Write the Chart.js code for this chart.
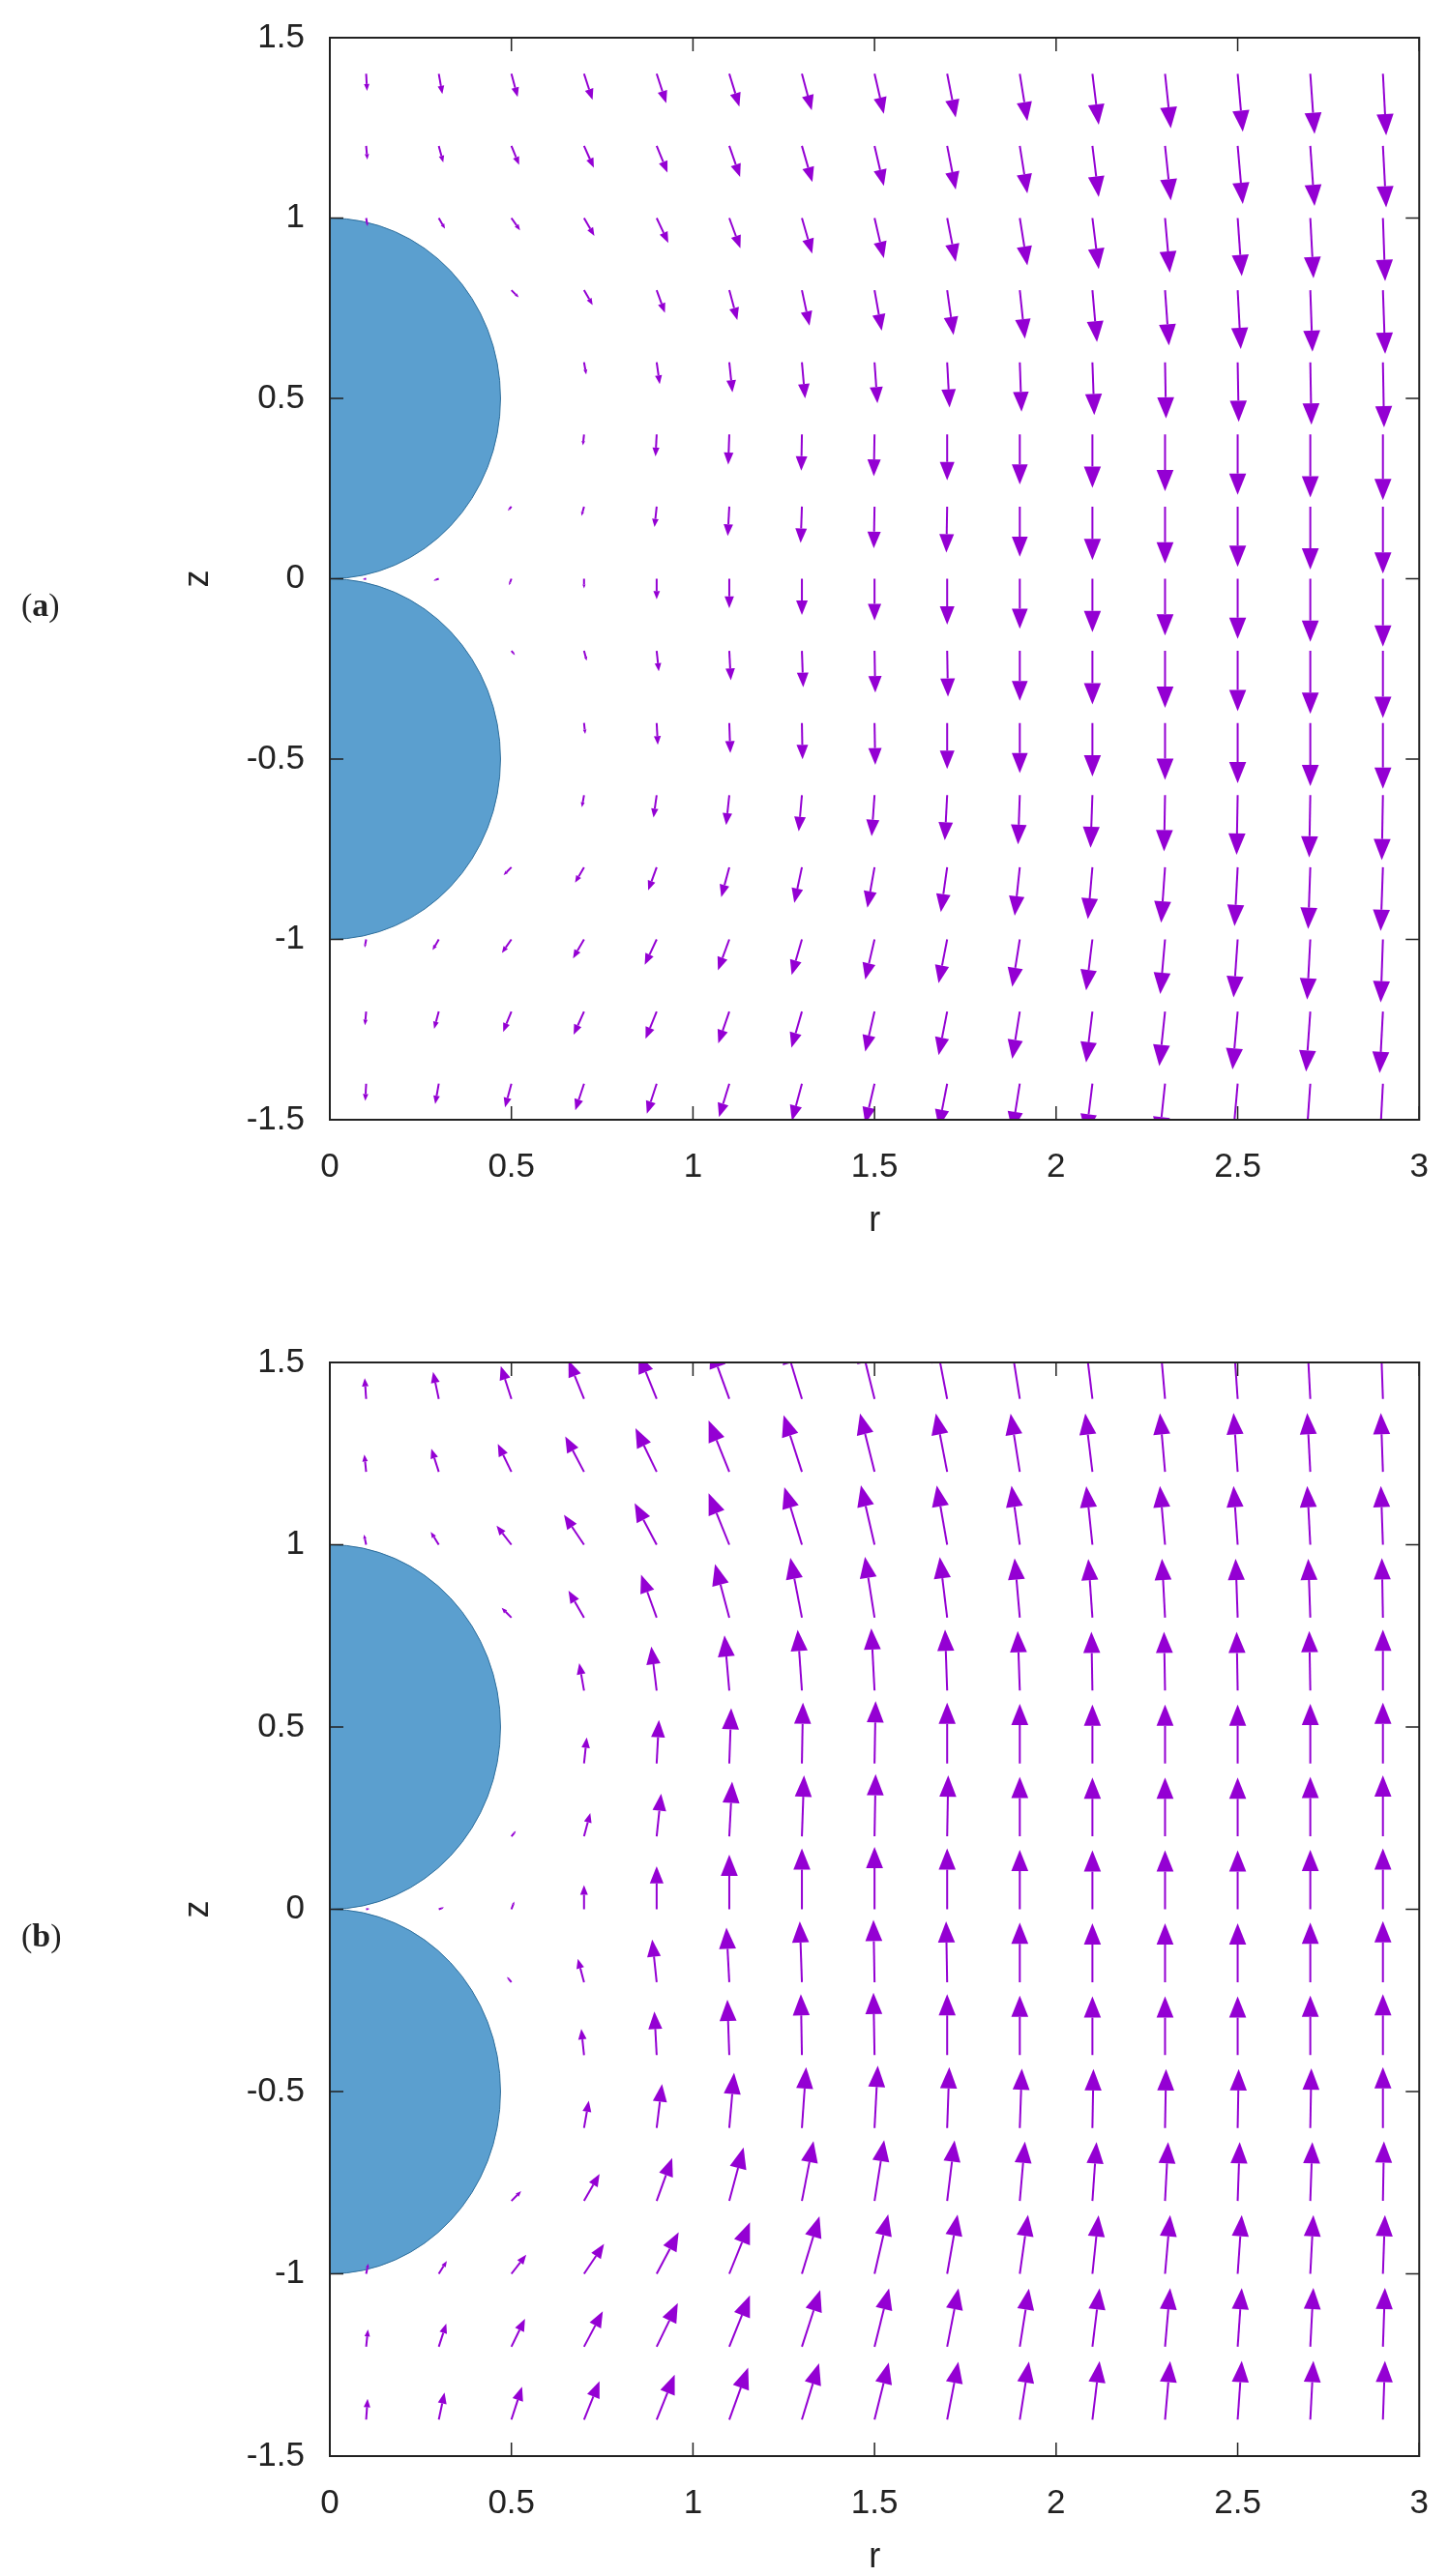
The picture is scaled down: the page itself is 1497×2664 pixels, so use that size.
<!DOCTYPE html>
<html>
<head>
<meta charset="utf-8">
<script src="https://cdn.jsdelivr.net/npm/chart.js@4/dist/chart.umd.min.js"></script>
<style>
  body { margin: 0; background: #fff; }
  canvas { display: block; }
</style>
</head>
<body>
<canvas id="chartA" width="1497" height="1332"></canvas>
<canvas id="chartB" width="1497" height="1332"></canvas>
<script>
// sample positions of the arrows
const rValues = [0.1, 0.3, 0.5, 0.7, 0.9, 1.1, 1.3, 1.5, 1.7, 1.9, 2.1, 2.3, 2.5, 2.7, 2.9];
const zValues = [1.4, 1.2, 1.0, 0.8, 0.6, 0.4, 0.2, 0.0, -0.2, -0.4, -0.6, -0.8, -1.0, -1.2, -1.4];
const xTicks = [0, 0.5, 1, 1.5, 2, 2.5, 3];
const yTicks = [-1.5, -1, -0.5, 0, 0.5, 1, 1.5];
// spheres: centre z, radius
const sphereCentres = [0.5, -0.5];

// panel (a): downward flow. magnitude 0..100, tilt in degrees (+ = towards larger r)
const magA = [
  [25,30,35,40,45,50,55,60,65,70,75,80,85,88,90],
  [20,25,30,35,42,48,55,60,65,70,75,80,85,88,90],
  [12,18,22,30,40,47,54,60,65,70,75,80,85,88,92],
  [0,0,15,25,35,45,53,60,66,71,76,81,86,90,93],
  [0,0,0,18,32,44,53,60,66,72,77,82,87,91,95],
  [0,0,0,16,32,44,53,61,67,73,78,83,88,92,96],
  [0,0,8,14,30,43,53,61,67,73,78,83,88,92,98],
  [5,8,10,14,30,43,53,61,67,73,78,83,88,92,99],
  [0,0,8,15,30,43,53,61,67,73,78,83,88,92,98],
  [0,0,0,16,32,44,53,61,67,73,78,83,88,92,96],
  [0,0,0,18,33,44,53,60,66,72,77,82,87,91,95],
  [0,0,16,26,36,45,53,60,66,71,76,81,86,90,93],
  [12,18,24,32,41,48,54,60,65,70,75,80,85,88,92],
  [20,26,32,37,43,49,55,60,65,70,75,80,85,88,90],
  [25,30,36,41,46,51,56,60,65,70,75,80,85,88,90]
];
const tiltA = [
  [3,10,15,18,18,17,15,13,11,9,7,6,5,4,3],
  [5,15,22,24,22,19,16,13,11,9,7,6,5,4,3],
  [10,30,35,30,25,20,16,13,11,9,7,5,4,3,2],
  [0,0,45,30,20,15,12,10,8,6,5,4,3,2,2],
  [0,0,0,10,8,6,5,4,3,2,2,1,1,1,1],
  [0,0,0,-6,-3,-2,-1,-1,0,0,0,0,0,0,0],
  [0,0,-40,-15,-6,-3,-2,-1,-1,0,0,0,0,0,0],
  [-80,-70,-20,0,0,0,0,0,0,0,0,0,0,0,0],
  [0,0,40,15,6,3,2,1,1,0,0,0,0,0,0],
  [0,0,0,6,3,2,1,1,0,0,0,0,0,0,0],
  [0,0,0,-10,-8,-6,-5,-4,-3,-2,-2,-1,-1,-1,-1],
  [0,0,-45,-30,-20,-15,-12,-10,-8,-6,-5,-4,-3,-2,-2],
  [-10,-30,-35,-30,-25,-20,-16,-13,-11,-9,-7,-5,-4,-3,-2],
  [-5,-15,-22,-24,-22,-19,-16,-13,-11,-9,-7,-6,-5,-4,-3],
  [-3,-10,-15,-18,-18,-17,-15,-13,-11,-9,-7,-6,-5,-4,-3]
];

// panel (b): upward flow
const magB = [
  [30,40,50,60,70,80,85,85,85,85,85,85,85,85,85],
  [25,35,45,58,70,80,86,87,86,85,85,85,85,85,85],
  [15,22,35,52,68,80,87,88,87,86,85,85,85,85,85],
  [0,0,20,45,66,80,88,89,88,86,85,85,85,85,86],
  [0,0,0,40,64,80,88,90,88,86,85,85,85,86,88],
  [0,0,0,38,63,80,88,90,88,86,85,85,85,86,88],
  [0,0,10,35,62,79,88,90,88,86,85,85,85,86,88],
  [5,8,12,35,62,79,88,90,88,86,85,85,85,86,88],
  [0,0,10,35,62,79,88,90,88,86,85,85,85,86,88],
  [0,0,0,38,63,80,88,90,88,86,85,85,85,86,88],
  [0,0,0,40,64,80,88,90,88,86,85,85,85,86,88],
  [0,0,20,45,66,80,88,89,88,86,85,85,85,85,86],
  [15,22,35,52,68,80,87,88,87,86,85,85,85,85,85],
  [25,35,45,58,70,80,86,87,86,85,85,85,85,85,85],
  [30,40,50,60,70,80,85,85,85,85,85,85,85,85,85]
];
const tiltB = [
  [-4,-12,-18,-22,-22,-20,-17,-14,-11,-9,-7,-5,-4,-3,-2],
  [-6,-18,-26,-28,-26,-22,-18,-14,-11,-9,-7,-5,-4,-3,-2],
  [-12,-32,-38,-34,-28,-22,-17,-13,-10,-8,-6,-5,-4,-3,-2],
  [0,0,-45,-30,-20,-15,-11,-9,-7,-5,-4,-3,-2,-2,-1],
  [0,0,0,-10,-7,-5,-4,-3,-2,-2,-1,-1,-1,-1,0],
  [0,0,0,6,3,2,1,1,0,0,0,0,0,0,0],
  [0,0,40,15,6,3,2,1,1,0,0,0,0,0,0],
  [80,70,20,0,0,0,0,0,0,0,0,0,0,0,0],
  [0,0,-40,-15,-6,-3,-2,-1,-1,0,0,0,0,0,0],
  [0,0,0,-6,-3,-2,-1,-1,0,0,0,0,0,0,0],
  [0,0,0,10,7,5,4,3,2,2,1,1,1,1,0],
  [0,0,45,30,20,15,11,9,7,5,4,3,2,2,1],
  [12,32,38,34,28,22,17,13,10,8,6,5,4,3,2],
  [6,18,26,28,26,22,18,14,11,9,7,5,4,3,2],
  [4,12,18,22,22,20,17,14,11,9,7,5,4,3,2]
];

const ARROW_COLOR = '#9400d3';
const MAX_LEN = 0.19; // data units for magnitude 100

function buildPoints(mag, tilt) {
  const pts = [];
  zValues.forEach((z, i) => {
    rValues.forEach((r, j) => {
      if (mag[i][j] > 0) pts.push({ x: r, y: z, m: mag[i][j], t: tilt[i][j] });
    });
  });
  return pts;
}

const framePlugin = {
  id: 'frame',
  beforeDatasetsDraw(chart) {
    const { ctx, chartArea: a, scales: { x, y } } = chart;
    ctx.save();
    ctx.beginPath();
    ctx.rect(a.left, a.top, a.width, a.height);
    ctx.clip();
    ctx.fillStyle = '#5b9fcf';
    ctx.strokeStyle = '#2f6f9c';
    ctx.lineWidth = 1;
    sphereCentres.forEach(zc => {
      const cx = x.getPixelForValue(0), cy = y.getPixelForValue(zc);
      const rx = x.getPixelForValue(0.47) - cx, ry = cy - y.getPixelForValue(zc + 0.5);
      ctx.beginPath();
      ctx.ellipse(cx, cy, rx, ry, 0, -Math.PI / 2, Math.PI / 2);
      ctx.closePath();
      ctx.fill();
      ctx.stroke();
    });
    ctx.restore();
  },
  afterDatasetsDraw(chart, args, opts) {
    const { ctx, chartArea: a, scales: { x, y } } = chart;
    const sign = opts.up ? 1 : -1;
    ctx.save();
    ctx.beginPath();
    ctx.rect(a.left, a.top, a.width, a.height);
    ctx.clip();
    ctx.strokeStyle = ARROW_COLOR;
    ctx.fillStyle = ARROW_COLOR;
    ctx.lineWidth = 2;
    chart.data.datasets[0].data.forEach(p => {
      const len = MAX_LEN * p.m / 100;
      const ang = p.t * Math.PI / 180;
      const x0 = x.getPixelForValue(p.x), y0 = y.getPixelForValue(p.y);
      const x1 = x.getPixelForValue(p.x + len * Math.sin(ang));
      const y1 = y.getPixelForValue(p.y + sign * len * Math.cos(ang));
      const dx = x1 - x0, dy = y1 - y0, d = Math.hypot(dx, dy);
      if (d < 1) return;
      const ux = dx / d, uy = dy / d;
      const h = Math.min(22, d * 0.4), w = h * 0.4;
      ctx.beginPath();
      ctx.moveTo(x0, y0);
      ctx.lineTo(x1 - ux * h, y1 - uy * h);
      ctx.stroke();
      ctx.beginPath();
      ctx.moveTo(x1, y1);
      ctx.lineTo(x1 - ux * h - uy * w, y1 - uy * h + ux * w);
      ctx.lineTo(x1 - ux * h + uy * w, y1 - uy * h - ux * w);
      ctx.closePath();
      ctx.fill();
    });
    ctx.restore();

    // border and inward ticks
    ctx.save();
    ctx.strokeStyle = '#222';
    ctx.lineWidth = 2;
    ctx.strokeRect(a.left, a.top, a.width, a.height);
    ctx.lineWidth = 1.5;
    xTicks.forEach(v => {
      const px = x.getPixelForValue(v);
      ctx.beginPath();
      ctx.moveTo(px, a.bottom); ctx.lineTo(px, a.bottom - 14);
      ctx.moveTo(px, a.top); ctx.lineTo(px, a.top + 14);
      ctx.stroke();
    });
    yTicks.forEach(v => {
      const py = y.getPixelForValue(v);
      ctx.beginPath();
      ctx.moveTo(a.left, py); ctx.lineTo(a.left + 14, py);
      ctx.moveTo(a.right, py); ctx.lineTo(a.right - 14, py);
      ctx.stroke();
    });
    // axis titles and panel label
    ctx.fillStyle = '#222';
    ctx.font = '36px "Liberation Sans", Arial, sans-serif';
    ctx.textAlign = 'center';
    ctx.textBaseline = 'middle';
    ctx.fillText('r', (a.left + a.right) / 2, a.bottom + 105);
    ctx.save();
    ctx.translate(205, (a.top + a.bottom) / 2);
    ctx.rotate(-Math.PI / 2);
    ctx.fillText('z', 0, 0);
    ctx.restore();
    ctx.textAlign = 'left';
    ctx.font = '34px "Liberation Serif", serif';
    const ly = (a.top + a.bottom) / 2 + 30;
    let lx = 22;
    ctx.fillText('(', lx, ly); lx += ctx.measureText('(').width;
    ctx.font = 'bold 34px "Liberation Serif", serif';
    ctx.fillText(opts.letter, lx, ly); lx += ctx.measureText(opts.letter).width;
    ctx.font = '34px "Liberation Serif", serif';
    ctx.fillText(')', lx, ly);
    ctx.restore();
  }
};

const tickFont = { size: 35, family: '"Liberation Sans", Arial, sans-serif' };

function makeChart(id, mag, tilt, up, letter, padTop, xHeight) {
  return new Chart(document.getElementById(id), {
    type: 'scatter',
    data: { datasets: [{ data: buildPoints(mag, tilt), pointRadius: 0, pointHoverRadius: 0 }] },
    options: {
      responsive: false,
      animation: false,
      events: [],
      layout: { padding: { top: padTop, right: 29, left: 0, bottom: 0 } },
      plugins: { legend: { display: false }, tooltip: { enabled: false }, frame: { up, letter } },
      scales: {
        x: {
          type: 'linear', min: 0, max: 3,
          afterBuildTicks: s => { s.ticks = xTicks.map(v => ({ value: v })); },
          afterFit: s => { s.height = xHeight; },
          grid: { display: false }, border: { display: false },
          ticks: { color: '#222', padding: 20, font: tickFont, callback: v => String(v) }
        },
        y: {
          type: 'linear', min: -1.5, max: 1.5,
          afterBuildTicks: s => { s.ticks = yTicks.map(v => ({ value: v })); },
          afterFit: s => { s.width = 341; },
          grid: { display: false }, border: { display: false },
          ticks: { color: '#222', padding: 18, font: tickFont, callback: v => String(v) }
        }
      }
    },
    plugins: [framePlugin]
  });
}

makeChart('chartA', magA, tiltA, false, 'a', 38, 174);
makeChart('chartB', magB, tiltB, true, 'b', 77, 124);
</script>
</body>
</html>
